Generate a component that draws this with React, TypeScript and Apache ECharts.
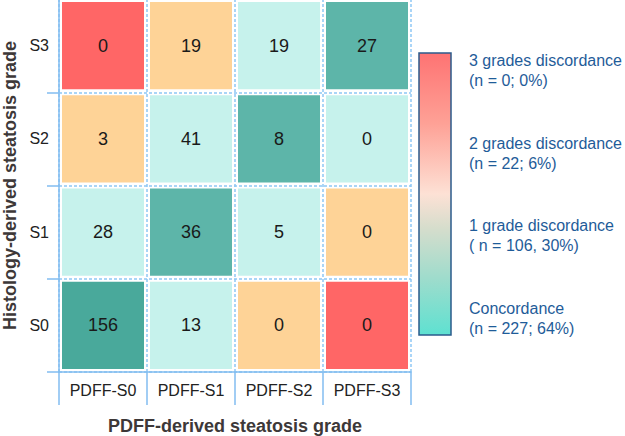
import React, { useEffect, useRef } from "react";
import * as echarts from "echarts";

// PDFF-derived grades (columns) and histology-derived grades (rows, bottom to top)
const PDFF_GRADES = ["PDFF-S0", "PDFF-S1", "PDFF-S2", "PDFF-S3"];
const HISTOLOGY_GRADES = ["S0", "S1", "S2", "S3"];

// Patient counts for each histology grade, across PDFF grades S0..S3
const HISTOLOGY_S0 = [156, 13, 0, 0];
const HISTOLOGY_S1 = [28, 36, 5, 0];
const HISTOLOGY_S2 = [3, 41, 8, 0];
const HISTOLOGY_S3 = [0, 19, 19, 27];
const COUNTS = [HISTOLOGY_S0, HISTOLOGY_S1, HISTOLOGY_S2, HISTOLOGY_S3];

// Legend captions, from the top of the colour bar downwards
const LEGEND_LINES = [
  "3 grades discordance\n(n = 0; 0%)",
  "2 grades discordance\n(n = 22; 6%)",
  "1 grade discordance\n( n = 106, 30%)",
  "Concordance\n(n = 227; 64%)",
];

// Fill per number of grades of discordance
const LEVEL_COLORS = ["#5db5a9", "#c6f2ec", "#fed397", "#ff6666"];
const LEVEL_COLOR_STRONG = "#49a99b";

const FONT = "'Liberation Sans', Arial, sans-serif";
const LINE_BLUE = "#82bdf0";

export default function App() {
  const ref = useRef<HTMLDivElement>(null);

  useEffect(() => {
    document.body.style.margin = "0";
    if (!ref.current) return;
    const chart = echarts.init(ref.current, null, { renderer: "svg" });

    const data: number[][] = [];
    COUNTS.forEach((row, yi) => row.forEach((v, xi) => data.push([xi, yi, v])));
    const maxValue = Math.max(...data.map((d) => d[2]));

    const legendTops = [50, 133, 215, 298];

    chart.setOption({
      animation: false,
      grid: { left: 59, top: -1, width: 352, height: 373, outerBoundsMode: "none", containLabel: false },
      xAxis: {
        type: "category",
        data: PDFF_GRADES,
        name: "PDFF-derived steatosis grade",
        nameLocation: "middle",
        nameGap: 45,
        nameTextStyle: { fontFamily: FONT, fontSize: 18, fontWeight: "bold", color: "#3d3838", verticalAlign: "top" },
        axisLine: { show: true, lineStyle: { color: LINE_BLUE, width: 1.5 } },
        axisTick: { show: true, length: 33, interval: 0, lineStyle: { color: LINE_BLUE, width: 1.5 } },
        axisLabel: { interval: 0, margin: 10, fontFamily: FONT, fontSize: 16, color: "#222" },
        splitLine: { show: true, interval: 0, lineStyle: { color: "#8fc8f5", width: 1.5, type: [3, 2] } },
      },
      yAxis: {
        type: "category",
        data: HISTOLOGY_GRADES,
        name: "Histology-derived steatosis grade",
        nameLocation: "middle",
        nameGap: 49,
        nameRotate: 90,
        nameTextStyle: {
          fontFamily: FONT,
          fontSize: 18,
          fontWeight: "bold",
          color: "#3d3838",
          verticalAlign: "middle",
        },
        axisLine: { show: true, lineStyle: { color: LINE_BLUE, width: 1.5 } },
        axisTick: { show: true, length: 12, interval: 0, lineStyle: { color: LINE_BLUE, width: 1.5 } },
        axisLabel: { interval: 0, margin: 10, fontFamily: FONT, fontSize: 16, color: "#222" },
        splitLine: { show: true, interval: 0, lineStyle: { color: "#8fc8f5", width: 1.5, type: [3, 2] } },
      },
      series: [
        {
          type: "custom",
          data,
          encode: { x: 0, y: 1 },
          renderItem: (_params: any, api: any) => {
            const xi = api.value(0);
            const yi = api.value(1);
            const v = api.value(2);
            const c = api.coord([xi, yi]);
            const s = api.size([1, 1]);
            const inset = 3;
            const level = Math.abs(xi - yi);
            const fill = level === 0 && v === maxValue ? LEVEL_COLOR_STRONG : LEVEL_COLORS[level];
            return {
              type: "group",
              children: [
                {
                  type: "rect",
                  shape: {
                    x: c[0] - s[0] / 2 + inset,
                    y: c[1] - s[1] / 2 + inset,
                    width: s[0] - 2 * inset,
                    height: s[1] - 2 * inset,
                  },
                  style: { fill },
                },
                {
                  type: "text",
                  x: c[0],
                  y: c[1],
                  style: {
                    text: String(v),
                    fill: "#1a1a1a",
                    fontFamily: FONT,
                    fontSize: 18,
                    align: "center",
                    verticalAlign: "middle",
                  },
                },
              ],
            };
          },
        },
      ],
      graphic: [
        {
          type: "rect",
          shape: { x: 419, y: 53, width: 32, height: 282 },
          style: {
            fill: {
              type: "linear",
              x: 0,
              y: 0,
              x2: 0,
              y2: 1,
              colorStops: [
                { offset: 0, color: "#fe7373" },
                { offset: 0.25, color: "#fea196" },
                { offset: 0.5, color: "#fde1d5" },
                { offset: 0.62, color: "#d6ddcc" },
                { offset: 0.8, color: "#9edccc" },
                { offset: 1, color: "#5ee1d1" },
              ],
            },
            stroke: "#2b5b8c",
            lineWidth: 1.5,
          },
        },
        ...LEGEND_LINES.map((t, i) => ({
          type: "text",
          x: 469,
          y: legendTops[i],
          style: {
            text: t,
            fill: "#1f5c99",
            fontFamily: FONT,
            fontSize: 16,
            lineHeight: 20,
            align: "left",
            verticalAlign: "top",
          },
        })),
      ],
    });

    return () => chart.dispose();
  }, []);

  return <div ref={ref} style={{ width: 625, height: 436 }} />;
}
